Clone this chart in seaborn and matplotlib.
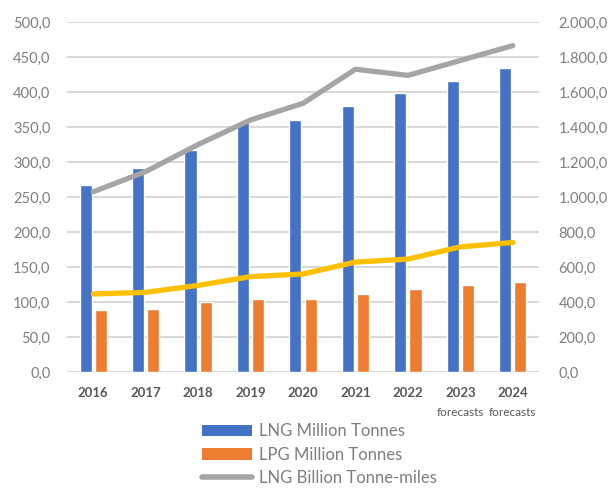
import matplotlib
matplotlib.use("Agg")
import matplotlib.pyplot as plt
import seaborn as sns
import pandas as pd
import numpy as np
from matplotlib.patches import Patch
from matplotlib.lines import Line2D
from matplotlib.ticker import FuncFormatter, MultipleLocator
import matplotlib.transforms as mtransforms

years = ["2016", "2017", "2018", "2019", "2020", "2021", "2022", "2023", "2024"]
lng_mt = [267, 292, 317, 357, 360, 380, 398, 416, 434]
lpg_mt = [88, 90, 100, 105, 104, 111, 119, 125, 129]
lng_btm = [1030, 1145, 1300, 1440, 1535, 1730, 1695, 1780, 1865]
lpg_btm = [446, 455, 495, 545, 560, 628, 645, 715, 740]
forecast_labels = ["", "", "", "", "", "", "", "forecasts", "forecasts"]

BLUE = "#4472c4"
ORANGE = "#ed7d31"
GRAY = "#a5a5a5"
YELLOW = "#ffc000"
GRID = "#d9d9d9"
TXT = "#7f7f7f"
YR = "#595959"

sns.set_theme(style="white")
plt.rcParams["font.family"] = ["Lato", "DejaVu Sans"]

fig = plt.figure(figsize=(6.09, 4.88), dpi=100)
ax = fig.add_axes([67 / 609, 1 - 372 / 488, (539 - 67) / 609, 350 / 488])

df = pd.DataFrame({
    "year": years * 2,
    "value": lng_mt + lpg_mt,
    "series": ["LNG Million Tonnes"] * len(years) + ["LPG Million Tonnes"] * len(years),
})
sns.barplot(data=df, x="year", y="value", hue="series",
            palette=[BLUE, ORANGE], width=0.58, gap=0.2, ax=ax,
            legend=False, saturation=1)

ax.set_ylim(0, 500)
ax.yaxis.set_major_locator(MultipleLocator(50))
ax.yaxis.set_major_formatter(FuncFormatter(lambda v, p: f"{v:.1f}".replace(".", ",")))
ax.grid(axis="y", color=GRID, linewidth=1.5)
ax.set_axisbelow(True)
for s in ax.spines.values():
    s.set_visible(False)
ax.set_xlabel("")
ax.set_ylabel("")
ax.tick_params(axis="y", length=0, pad=12, labelsize=10.5, labelcolor=TXT)
ax.tick_params(axis="x", length=0, pad=11, labelsize=9.5, labelcolor=YR)
for t in ax.get_xticklabels():
    t.set_fontweight("bold")

ax2 = ax.twinx()
sns.pointplot(x=years, y=lpg_btm, ax=ax2, color=YELLOW, markers="", errorbar=None,
              linewidth=3.8, solid_capstyle="round")
sns.pointplot(x=years, y=lng_btm, ax=ax2, color=GRAY, markers="", errorbar=None,
              linewidth=3.8, solid_capstyle="round")
ax2.set_ylim(0, 2000)
ax2.yaxis.set_major_locator(MultipleLocator(200))


def de_fmt(v, p):
    s = f"{v:,.1f}"
    return s.replace(",", "X").replace(".", ",").replace("X", ".")


ax2.yaxis.set_major_formatter(FuncFormatter(de_fmt))
ax2.grid(False)
for s in ax2.spines.values():
    s.set_visible(False)
ax2.set_ylabel("")
ax2.tick_params(axis="y", length=0, pad=14, labelsize=10.5, labelcolor=TXT)
ax.set_xlim(-0.5, len(years) - 0.5)

trans = mtransforms.blended_transform_factory(ax.transData, ax.transAxes)
for i, lab in enumerate(forecast_labels):
    if lab:
        ax.text(i, -0.117, lab, transform=trans, ha="center", va="center",
                fontsize=8.5, color=YR)

handles = [
    Patch(facecolor=BLUE, edgecolor="none", label="LNG Million Tonnes"),
    Patch(facecolor=ORANGE, edgecolor="none", label="LPG Million Tonnes"),
    Line2D([0], [0], color=GRAY, linewidth=4, solid_capstyle="round",
           label="LNG Billion Tonne-miles"),
]
leg = fig.legend(handles=handles, loc="upper left", bbox_to_anchor=(194 / 609, 1 - 415 / 488),
                 frameon=False, fontsize=12, labelcolor=TXT, handlelength=3.0,
                 handleheight=0.72, handletextpad=0.4, labelspacing=0.45, borderpad=0)

fig.savefig("out.png", dpi=100)
